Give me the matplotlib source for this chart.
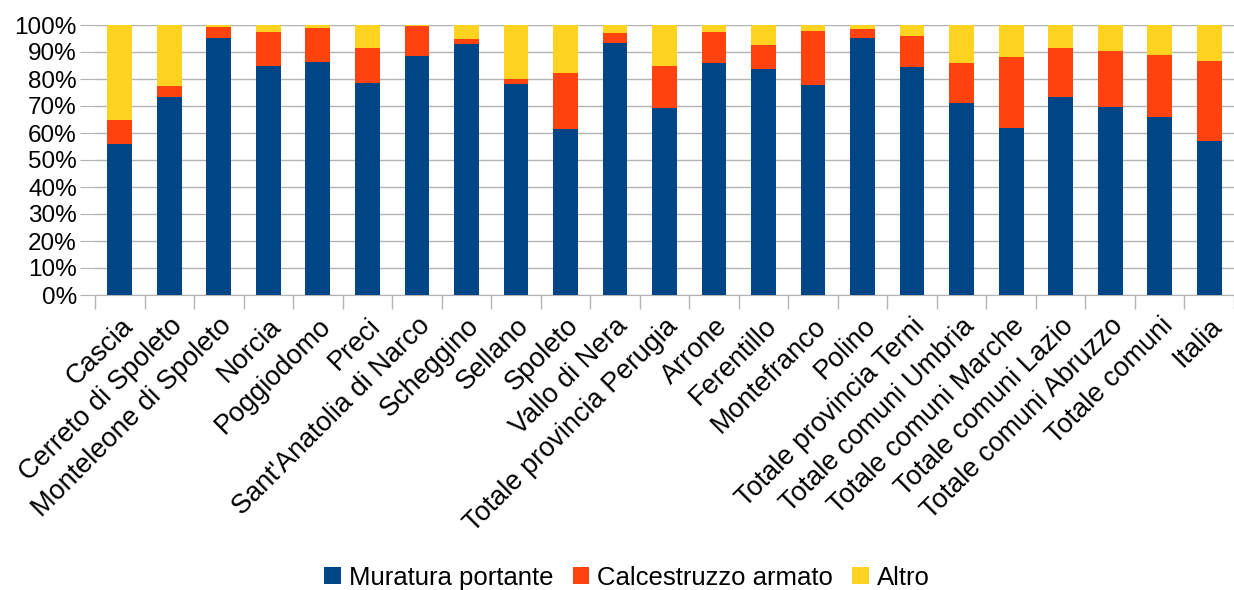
import matplotlib
matplotlib.use("Agg")
import matplotlib.pyplot as plt
import numpy as np
from matplotlib.ticker import FixedLocator, PercentFormatter

categories = ["Cascia", "Cerreto di Spoleto", "Monteleone di Spoleto", "Norcia",
              "Poggiodomo", "Preci", "Sant'Anatolia di Narco", "Scheggino",
              "Sellano", "Spoleto", "Vallo di Nera", "Totale provincia Perugia",
              "Arrone", "Ferentillo", "Montefranco", "Polino", "Totale provincia Terni",
              "Totale comuni Umbria", "Totale comuni Marche", "Totale comuni Lazio",
              "Totale comuni Abruzzo", "Totale comuni", "Italia"]

muratura = [56.1, 73.5, 95.1, 84.7, 86.2, 78.4, 88.4, 92.8, 78.0, 61.3, 93.2, 69.1,
            85.8, 83.6, 77.6, 95.1, 84.3, 71.0, 61.7, 73.5, 69.5, 66.1, 57.2]
calcestruzzo = [8.9, 3.8, 4.0, 12.6, 12.6, 12.9, 11.1, 1.9, 1.9, 20.8, 3.7, 15.6,
                11.5, 8.9, 20.1, 3.3, 11.5, 14.8, 26.3, 17.8, 20.7, 22.7, 29.3]
altro = [35.0, 22.7, 0.9, 2.7, 1.2, 8.7, 0.5, 5.3, 20.1, 17.9, 3.1, 15.3,
         2.7, 7.5, 2.3, 1.6, 4.2, 14.2, 12.0, 8.7, 9.8, 11.2, 13.5]

series_names = ["Muratura portante", "Calcestruzzo armato", "Altro"]
colors = ["#004586", "#ff420e", "#ffd320"]

plt.rcParams['font.family'] = ['Liberation Sans', 'DejaVu Sans']

fig = plt.figure(figsize=(12.34, 5.90), dpi=100)
ax = fig.add_axes([95/1234, 1 - 295/590, (1234 - 95) / 1234, 270/590])

x = np.arange(len(categories))
data = [muratura, calcestruzzo, altro]
bottom = np.zeros(len(categories))
handles = []
for vals, name, c in zip(data, series_names, colors):
    v = np.array(vals)
    h = ax.bar(x, v, 0.5, bottom=bottom, color=c, label=name, zorder=3)
    handles.append(h)
    bottom += v

ax.set_xlim(-0.5, len(categories) - 0.5)
ax.set_ylim(0, 100)
ax.set_yticks(np.arange(0, 101, 10))
ax.yaxis.set_major_formatter(PercentFormatter(decimals=0))
ax.grid(axis='y', color='#b3b3b3', linewidth=1, zorder=0)
for s in ['top', 'right', 'left']:
    ax.spines[s].set_visible(False)
ax.spines['bottom'].set_color('#b3b3b3')
ax.tick_params(axis='y', length=11, color='#b3b3b3', labelsize=17.5, pad=2)

ax.set_xticks(x)
ax.set_xticklabels(categories, rotation=45, ha='right', rotation_mode='anchor', fontsize=19.5)
ax.tick_params(axis='x', length=0, pad=13)
ax.xaxis.set_minor_locator(FixedLocator(np.arange(-0.5, len(categories), 1)))
ax.tick_params(axis='x', which='minor', length=10, color='#b3b3b3', width=1)

fig.legend(handles=handles, labels=series_names, loc='center',
           bbox_to_anchor=(627/1234, 1 - 578/590), ncol=3, frameon=False, fontsize=18.5,
           handlelength=0.64, handleheight=0.64, handletextpad=0.32, columnspacing=0.75,
           borderpad=0)

fig.savefig("out.png", dpi=100)
